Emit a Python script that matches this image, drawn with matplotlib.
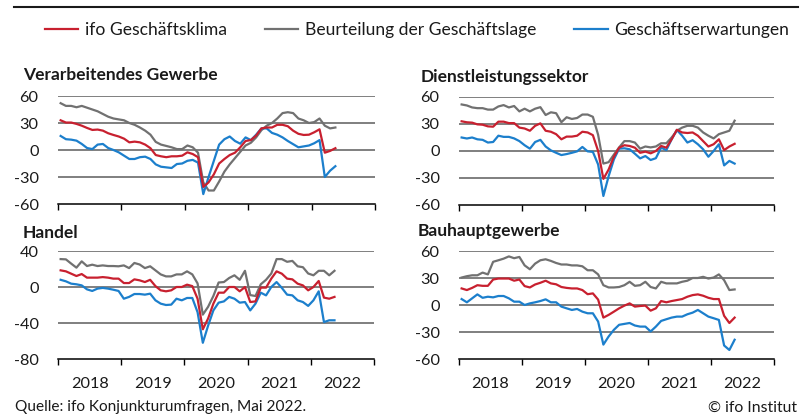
import matplotlib
matplotlib.use("Agg")
import matplotlib.pyplot as plt
from matplotlib.lines import Line2D
import numpy as np

plt.rcParams['font.family'] = ['Lato', 'DejaVu Sans']

W, H = 811, 415

# monthly values Jan 2018 - May 2022 (balances)
years = ['2018', '2019', '2020', '2021', '2022']

vg_lage = [52, 49, 49, 47.5, 49, 47, 45, 43, 40, 37, 35, 34, 33, 30, 28, 25, 21.5, 17, 9, 6,
           4.5, 3, 1, 1, 5, 3, -3, -36, -45, -45, -35, -24, -16, -9, -2, 5, 8, 14, 22, 27,
           30, 35, 41, 42, 41, 35, 33, 30, 31, 35, 27, 24, 25]
vg_klima = [33, 30.5, 30.5, 29, 27, 24.5, 22.3, 22.7, 21.5, 18.6, 16.7, 15, 12.6, 8.5, 9.3, 8.5, 6, 2, -5.6, -7,
            -8, -7, -7, -6.3, -2.6, -4.5, -8, -41, -36, -27, -15, -10, -5.6, -3, 3, 10, 11, 16, 24, 25,
            25, 28, 28, 26.4, 21.5, 18, 16.7, 17, 19.7, 23, -3, -1, 2]
vg_erw = [15.6, 12, 11.5, 10.4, 6.7, 2.2, 1, 6, 6.7, 2.2, 0, -2.6, -6.3, -10, -10, -8, -7.4, -10, -16, -18.6,
          -19.3, -20, -15.6, -15, -12, -11, -14, -49, -30, -12, 6, 12, 15, 10, 7, 14, 11, 17, 24, 24,
          19, 17, 14, 10, 6.5, 3, 4, 5, 7.5, 11, -30, -23, -18]

dl_lage = [51.7, 50.6, 48.4, 47.6, 47.6, 46, 46, 49.5, 51, 48.4, 50, 44, 47, 44, 47, 48.7, 40, 43, 42, 32,
           37.5, 35.6, 36.7, 40.5, 40.5, 38, 18, -14, -12.4, -4, 4, 11, 11, 9.4, 2.6, 5, 4, 5, 8.6, 8.6,
           15, 22.5, 26, 28, 28, 26, 20.6, 17, 14, 18.7, 20.6, 22.5, 33.7]
dl_klima = [33, 31.9, 31.5, 29.6, 29.2, 27.4, 27, 32.6, 32.6, 31, 31, 26, 25, 22.5, 28, 30.7, 22.5, 21.4, 18.7, 13,
            16, 16, 17, 21.4, 20.6, 17.6, 0, -31, -20.6, -6.4, 3.7, 6.4, 5.6, 3.7, -2, -0.7, -2.6, 0, 5.6, 3.7,
            13, 23.6, 20.6, 20, 20.6, 17, 11, 5, 7.5, 13, 1, 5, 8]
dl_erw = [15, 13.9, 15, 13, 12.4, 9.4, 10, 17, 15.7, 15.7, 14, 11, 6.4, 2.6, 10, 12.4, 5, 0.7, -2, -4.5,
          -3.4, -2, -0.4, 4.5, -0.4, -1, -15, -50, -28, -9.4, 2.6, 3, 1.9, -3, -8.2, -5.6, -10, -8, 3.7, 1,
          13, 23.3, 17, 9.4, 12, 7.5, 1.9, -6.4, 0, 7.5, -16, -11, -14]

ha_lage = [31, 30.7, 26, 21.5, 28.5, 23.3, 24.8, 23.3, 24, 23.3, 23.3, 23, 24, 21, 26.7, 25, 21, 23, 18.5, 14,
           11.8, 11.8, 14, 14, 17.4, 14, 4, -30.7, -22, -10, 5, 5.5, 10, 13, 8, 18, -9, -10, 3, 8,
           15, 31, 31, 28, 29, 23, 22, 15, 13, 18, 18, 13, 18]
ha_klima = [18.5, 17.4, 14.8, 12.2, 14.4, 10.4, 10.4, 10.4, 11, 10.4, 9.3, 9.3, 4.4, 4.4, 8.5, 7.4, 5.5, 8, 1, -3.7,
            -4.8, -3.7, 0, 0, 2.6, 1, -13, -47, -35, -18.5, -6.3, -6.3, 0, 0, -4.8, 0, -16.7, -16, -0.7, -0.7,
            9.3, 17.4, 14.8, 9.3, 8.5, 3.7, 1.8, -3.7, 0, 6.7, -11.8, -13, -11]
ha_erw = [8, 6.3, 3.7, 3, 1.8, -2.6, -4.4, -1.8, -1, -1.8, -3, -4.4, -13, -11, -7.8, -7.8, -8.5, -7.4, -14.8, -18.5,
          -20, -19.6, -13, -14.8, -12.2, -12.2, -28, -62, -43, -26, -17.4, -16, -11, -13, -17.4, -16.7, -26, -18.5, -6.3, -9.3,
          0, 5.5, -1, -8.5, -9.3, -14.8, -16.7, -21, -14.8, -4.8, -39, -37, -37]

bau_lage = [30.5, 32, 33, 33, 36, 34, 48, 49.7, 51.5, 54, 52, 53.4, 44, 39.7, 46, 49.7, 50.8, 49, 46.7, 45,
            45, 44, 44, 43, 38.6, 38.6, 34, 22, 19.5, 19.5, 20, 22, 25.8, 21.3, 22, 25.8, 20, 18.4, 25.8, 24,
            24, 24, 25.8, 27, 30, 30, 31.3, 29.4, 30.5, 34, 27.6, 16.6, 17.3]
bau_klima = [18.4, 16.6, 19, 22, 21.3, 21.3, 28.3, 29.4, 29.4, 29.4, 27, 28.3, 21, 19.5, 22.8, 24.7, 27, 24, 23, 20,
             19, 18.4, 18.4, 16.6, 12, 12.9, 6, -14, -11, -7.4, -3.7, -0.7, 1.8, -1.8, -1.1, -0.7, -6.3, -3.7, 4.4, 3,
             4.4, 5.5, 6.6, 9.2, 11, 11.8, 10.3, 8, 6.6, 6.6, -12, -20, -14]
bau_erw = [6.6, 3, 7.4, 11.8, 8, 9.2, 8.5, 10, 10, 7.4, 3.7, 3.7, 0, 1.8, 3, 4.4, 6.3, 3, 3, -1.8,
           -3.7, -5.5, -4.4, -7.4, -9.2, -9.2, -18.4, -44, -35, -27.6, -22, -21, -20, -22.8, -24, -24, -29.4, -24, -17.7, -15.8,
           -14, -12.9, -12.9, -10.3, -8.5, -5.5, -9.2, -12.9, -14.7, -16.6, -45, -50, -38.6]

RED = '#c8202f'
GREY = '#717171'
BLUE = '#1c7fcc'
GRID = '#5c5c5c'


def px_box(left, top, right, bottom):
    """pixel box -> figure fraction [x, y, w, h]"""
    return [left / W, 1 - bottom / H, (right - left) / W, (bottom - top) / H]


def draw_panel(ax, lage, klima, erw, ylim, yticks, show_years):
    x = np.arange(len(klima)) + 0.5
    for yv in yticks[1:]:
        ax.axhline(yv, color=GRID, lw=1.1, zorder=1)
    ax.plot(x, lage, color=GREY, lw=1.6, zorder=3)
    ax.plot(x, erw, color=BLUE, lw=1.6, zorder=4)
    ax.plot(x, klima, color=RED, lw=1.6, zorder=5)

    ax.set_xlim(0, 60)
    ax.set_ylim(*ylim)
    ax.set_yticks(yticks)
    ax.set_yticklabels([str(v) for v in yticks])
    for s in ['top', 'right', 'left']:
        ax.spines[s].set_visible(False)
    ax.spines['bottom'].set_color('black')
    ax.spines['bottom'].set_linewidth(1.1)
    ax.tick_params(axis='y', length=0, pad=14, labelsize=11.7, colors='#1a1a1a')
    ax.set_xticks(np.arange(0, 61, 12))
    ax.tick_params(axis='x', which='major', length=4.5, width=1.0, direction='out',
                   labelbottom=False)
    if show_years:
        ax.set_xticks(np.arange(6, 60, 12), minor=True)
        ax.set_xticklabels(years, minor=True)
        ax.tick_params(axis='x', which='minor', length=0, pad=13, labelsize=11.7,
                       colors='#1a1a1a')
    ax.set_facecolor('none')


fig = plt.figure(figsize=(W / 100, H / 100), dpi=100)

panels = [
    ('Verarbeitendes Gewerbe', vg_lage, vg_klima, vg_erw, (-60, 60), [-60, -30, 0, 30, 60],
     False, (58, 96, 375, 204), (23, 75)),
    ('Dienstleistungssektor', dl_lage, dl_klima, dl_erw, (-60, 60), [-60, -30, 0, 30, 60],
     False, (459, 97, 774, 205), (421, 77)),
    ('Handel', ha_lage, ha_klima, ha_erw, (-80, 40), [-80, -40, 0, 40],
     True, (58, 251, 374, 359), (23, 233)),
    ('Bauhauptgewerbe', bau_lage, bau_klima, bau_erw, (-60, 60), [-60, -30, 0, 30, 60],
     True, (459, 251, 774, 359), (418, 231)),
]

for title, lage, klima, erw, ylim, yticks, show_years, box, tpos in panels:
    ax = fig.add_axes(px_box(*box))
    draw_panel(ax, lage, klima, erw, ylim, yticks, show_years)
    fig.text(tpos[0] / W, 1 - tpos[1] / H, title, fontsize=12.5, fontweight='bold',
             ha='left', va='center', color='#1a1a1a')

# rule under the (cut) headline
fig.add_artist(Line2D([14 / W, 798 / W], [1 - 7 / H, 1 - 7 / H], color='#1a1a1a', lw=1.5))

handles = [Line2D([], [], color=RED, lw=1.6),
           Line2D([], [], color=GREY, lw=1.6),
           Line2D([], [], color=BLUE, lw=1.6)]
labels = ['ifo Geschäftsklima', 'Beurteilung der Geschäftslage', 'Geschäftserwartungen']
fig.legend(handles, labels, loc='center left', bbox_to_anchor=(45 / W, 1 - 30 / H),
           ncol=3, frameon=False, fontsize=12.6, handlelength=1.89, handletextpad=0.4,
           columnspacing=2.17, borderpad=0, borderaxespad=0, labelcolor='#1a1a1a')

fig.text(15 / W, 1 - 407 / H, 'Quelle: ifo Konjunkturumfragen, Mai 2022.', fontsize=11.1,
         ha='left', va='center', color='#1a1a1a')
fig.text(797 / W, 1 - 408 / H, '© ifo Institut', fontsize=11.3, ha='right', va='center',
         color='#1a1a1a')

fig.savefig('out.png', dpi=100)
